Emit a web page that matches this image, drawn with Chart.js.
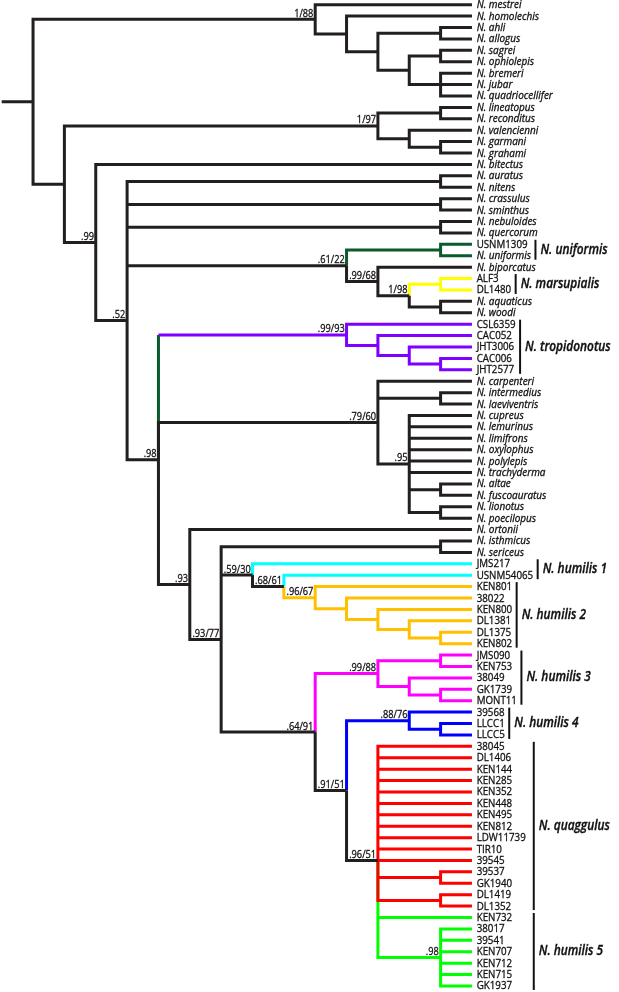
<!DOCTYPE html>
<html>
<head>
<meta charset="utf-8">
<script src="https://cdn.jsdelivr.net/npm/chart.js@4.4.1/dist/chart.umd.min.js"></script>
<style>
  html, body { margin: 0; padding: 0; background: #fff; }
  #wrap { width: 619px; height: 992px; }
</style>
</head>
<body>
<div id="wrap"><canvas id="arvore"></canvas></div>
<script>
// tips, top to bottom
const leaves = [
  'N. mestrei', 'N. homolechis', 'N. ahli', 'N. allogus', 'N. sagrei', 'N. ophiolepis',
  'N. bremeri', 'N. jubar', 'N. quadriocellifer', 'N. lineatopus', 'N. reconditus',
  'N. valencienni', 'N. garmani', 'N. grahami', 'N. bitectus', 'N. auratus', 'N. nitens',
  'N. crassulus', 'N. sminthus', 'N. nebuloides', 'N. quercorum', 'USNM1309', 'N. uniformis',
  'N. biporcatus', 'ALF3', 'DL1480', 'N. aquaticus', 'N. woodi', 'CSL6359', 'CAC052',
  'JHT3006', 'CAC006', 'JHT2577', 'N. carpenteri', 'N. intermedius', 'N. laeviventris',
  'N. cupreus', 'N. lemurinus', 'N. limifrons', 'N. oxylophus', 'N. polylepis',
  'N. trachyderma', 'N. altae', 'N. fuscoauratus', 'N. lionotus', 'N. poecilopus',
  'N. ortonii', 'N. isthmicus', 'N. sericeus', 'JMS217', 'USNM54065', 'KEN801', '38022',
  'KEN800', 'DL1381', 'DL1375', 'KEN802', 'JMS090', 'KEN753', '38049', 'GK1739', 'MONT11',
  '39568', 'LLCC1', 'LLCC5', '38045', 'DL1406', 'KEN144', 'KEN285', 'KEN352', 'KEN448',
  'KEN495', 'KEN812', 'LDW11739', 'TIR10', '39545', '39537', 'GK1940', 'DL1419', 'DL1352',
  'KEN732', '38017', '39541', 'KEN707', 'KEN712', 'KEN715', 'GK1937'
];

// internal nodes: [id, column, children, support]
const nodes = [
  ['root', 1, ['A', 'C'], ''],
  ['A', 10, ['N. mestrei', 'A2'], '1/88'],
  ['A2', 11, ['N. homolechis', 'A3'], ''],
  ['A3', 12, ['A4', 'A5'], ''],
  ['A4', 14, ['N. ahli', 'N. allogus'], ''],
  ['A5', 13, ['A6', 'A7'], ''],
  ['A6', 14, ['N. sagrei', 'N. ophiolepis'], ''],
  ['A7', 14, ['N. bremeri', 'N. jubar', 'N. quadriocellifer'], ''],
  ['C', 2, ['D', 'F'], ''],
  ['D', 12, ['D2', 'E'], '1/97'],
  ['D2', 14, ['N. lineatopus', 'N. reconditus'], ''],
  ['E', 13, ['N. valencienni', 'E2'], ''],
  ['E2', 14, ['N. garmani', 'N. grahami'], ''],
  ['F', 3, ['N. bitectus', 'G'], '.99'],
  ['G', 4, ['G1', 'G2', 'G3', 'H', 'I'], '.52'],
  ['G1', 14, ['N. auratus', 'N. nitens'], ''],
  ['G2', 14, ['N. crassulus', 'N. sminthus'], ''],
  ['G3', 14, ['N. nebuloides', 'N. quercorum'], ''],
  ['H', 11, ['H1', 'J'], '.61/22'],
  ['H1', 14, ['USNM1309', 'N. uniformis'], ''],
  ['J', 12, ['N. biporcatus', 'K'], '.99/68'],
  ['K', 13, ['K1', 'K2'], '1/98'],
  ['K1', 14, ['ALF3', 'DL1480'], ''],
  ['K2', 14, ['N. aquaticus', 'N. woodi'], ''],
  ['I', 5, ['P', 'M', 'N'], '.98'],
  ['P', 11, ['CSL6359', 'P2'], '.99/93'],
  ['P2', 12, ['CAC052', 'P3'], ''],
  ['P3', 13, ['JHT3006', 'P4'], ''],
  ['P4', 14, ['CAC006', 'JHT2577'], ''],
  ['M', 12, ['N. carpenteri', 'M1', 'Q'], '.79/60'],
  ['M1', 14, ['N. intermedius', 'N. laeviventris'], ''],
  ['Q', 13, ['N. cupreus', 'N. lemurinus', 'N. limifrons', 'N. oxylophus', 'N. polylepis',
             'N. trachyderma', 'Q1', 'Q2'], '.95'],
  ['Q1', 14, ['N. altae', 'N. fuscoauratus'], ''],
  ['Q2', 14, ['N. lionotus', 'N. poecilopus'], ''],
  ['N', 6, ['N. ortonii', 'R'], '.93'],
  ['R', 7, ['R1', 'S', 'Y'], '.93/77'],
  ['R1', 14, ['N. isthmicus', 'N. sericeus'], ''],
  ['S', 8, ['JMS217', 'T'], '.59/30'],
  ['T', 9, ['USNM54065', 'U'], '.68/61'],
  ['U', 10, ['KEN801', 'V'], '.96/67'],
  ['V', 11, ['38022', 'W'], ''],
  ['W', 12, ['KEN800', 'X'], ''],
  ['X', 13, ['DL1381', 'X1'], ''],
  ['X1', 14, ['DL1375', 'KEN802'], ''],
  ['Y', 10, ['Z', 'AA'], '.64/91'],
  ['Z', 12, ['Z1', 'Z2'], '.99/88'],
  ['Z1', 14, ['JMS090', 'KEN753'], ''],
  ['Z2', 13, ['38049', 'Z3'], ''],
  ['Z3', 14, ['GK1739', 'MONT11'], ''],
  ['AA', 11, ['BB', 'CC'], '.91/51'],
  ['BB', 13, ['39568', 'BB1'], '.88/76'],
  ['BB1', 14, ['LLCC1', 'LLCC5'], ''],
  ['CC', 12, ['38045', 'DL1406', 'KEN144', 'KEN285', 'KEN352', 'KEN448', 'KEN495', 'KEN812',
              'LDW11739', 'TIR10', '39545', 'CC1', 'CC2', 'KEN732', 'CC3'], '.96/51'],
  ['CC1', 14, ['39537', 'GK1940'], ''],
  ['CC2', 14, ['DL1419', 'DL1352'], ''],
  ['CC3', 14, ['38017', '39541', 'KEN707', 'KEN712', 'KEN715', 'GK1937'], '.98']
];

// node drawn level with a tip instead of centred on its children
const nodeAnchors = { CC: '39545' };

// named clades at the right: [label, first tip, last tip]
const groups = [
  ['N. uniformis', 'USNM1309', 'N. uniformis'],
  ['N. marsupialis', 'ALF3', 'DL1480'],
  ['N. tropidonotus', 'CSL6359', 'JHT2577'],
  ['N. humilis 1', 'JMS217', 'USNM54065'],
  ['N. humilis 2', 'KEN801', 'KEN802'],
  ['N. humilis 3', 'JMS090', 'MONT11'],
  ['N. humilis 4', '39568', 'LLCC5'],
  ['N. quaggulus', '38045', 'DL1352'],
  ['N. humilis 5', 'KEN732', 'GK1937']
];

const tipColumn = 15;
const rootColumn = 0;

// ---- styles ----
const cores = {
  black: '#231f20', red: '#ff0000', yellow: '#ffff00', cyan: '#00ffff', gold: '#ffc000',
  magenta: '#ff00ff', blue: '#0000ff', purple: '#7f00ff', darkgreen: '#0b5a2c', green: '#00ff00'
};
const ordemCores = Object.keys(cores);
const cladeColors = {
  H1: 'darkgreen', K1: 'yellow', P: 'purple', JMS217: 'cyan', USNM54065: 'cyan', U: 'gold',
  Z: 'magenta', BB: 'blue', KEN732: 'green', CC3: 'green'
};
['38045', 'DL1406', 'KEN144', 'KEN285', 'KEN352', 'KEN448', 'KEN495', 'KEN812', 'LDW11739',
 'TIR10', '39545', 'CC1', 'CC2'].forEach(k => cladeColors[k] = 'red');
const stemColors = { P: 'darkgreen' };
const sharedBracket = ['N. quaggulus', 'N. humilis 5'];
// fonts are squeezed horizontally and lightly stroked to imitate the original face
const fonteTip = { font: '10.5px "Open Sans"', sx: 0.93, peso: 0.3 };
const fonteTipItal = { font: 'italic 10.5px "Open Sans"', sx: 0.95, peso: 0.3 };
const fonteSup = { font: '11px "Open Sans"', sx: 0.84, peso: 0.3 };
const fonteGrupo = { font: 'italic 600 13.5px "Open Sans"', sx: 0.88, peso: 0.35 };

// ---- tree geometry ----
const byId = {};
nodes.forEach(n => byId[n[0]] = { id: n[0], col: n[1], kids: n[2], support: n[3] });
const isLeaf = name => !byId[name];
const colOf = name => isLeaf(name) ? tipColumn : byId[name].col;
const rows = {};
function rowOf(name) {
  if (name in rows) return rows[name];
  let v;
  if (isLeaf(name)) {
    v = leaves.indexOf(name);
  } else {
    const k = byId[name].kids;
    k.forEach(rowOf);
    v = nodeAnchors[name] ? leaves.indexOf(nodeAnchors[name])
                          : (rowOf(k[0]) + rowOf(k[k.length - 1])) / 2;
  }
  rows[name] = v;
  return v;
}

const segs = {};
function addSeg(cor, pts) {
  (segs[cor] = segs[cor] || []).push(...pts, { x: NaN, y: NaN });
}
function walk(name, herdada) {
  const cor = cladeColors[name] || herdada;
  if (isLeaf(name)) return;
  const n = byId[name];
  const px = n.col, py = rowOf(name);
  n.kids.forEach(k => {
    const kc = cladeColors[k] || cor;
    const kx = colOf(k), ky = rowOf(k);
    if (stemColors[k]) {
      addSeg(stemColors[k], [{ x: px, y: py }, { x: px, y: ky }]);
      addSeg(kc, [{ x: px, y: ky }, { x: kx, y: ky }]);
    } else {
      addSeg(kc, [{ x: px, y: py }, { x: px, y: ky }, { x: kx, y: ky }]);
    }
    walk(k, cor);
  });
}
addSeg('black', [{ x: rootColumn, y: rowOf('root') }, { x: byId.root.col, y: rowOf('root') }]);
walk('root', 'black');

const datasets = ordemCores.filter(c => segs[c]).map(c => ({
  data: segs[c],
  borderColor: cores[c],
  backgroundColor: cores[c],
  borderWidth: 3,
  pointRadius: 0,
  showLine: true,
  spanGaps: false,
  borderJoinStyle: 'miter',
  borderCapStyle: 'butt',
  clip: false,
  order: ordemCores.indexOf(c)
}));

// layout: column step and row step in pixels
const colPx = 31.35, col0 = 1.7, rowPx = 11.41, row0 = 4.7;
const W = 619, H = 992;

function texto(ctx, f, s, x, y) {
  ctx.save();
  ctx.font = f.font;
  ctx.translate(x, y);
  ctx.scale(f.sx, 1);
  ctx.lineWidth = f.peso;
  ctx.fillText(s, 0, 0);
  ctx.strokeText(s, 0, 0);
  const w = ctx.measureText(s).width * f.sx;
  ctx.restore();
  return w;
}

const rotulos = {
  id: 'rotulos',
  afterDatasetsDraw(chart) {
    const { ctx, scales: { x, y } } = chart;
    ctx.save();
    ctx.fillStyle = '#111';
    ctx.strokeStyle = '#111';

    // tip labels
    ctx.textAlign = 'left';
    ctx.textBaseline = 'middle';
    const tx = x.getPixelForValue(tipColumn) + 4.7;
    const ends = {};
    leaves.forEach((name, i) => {
      const f = name.startsWith('N. ') ? fonteTipItal : fonteTip;
      ends[name] = tx + texto(ctx, f, name, tx, y.getPixelForValue(i) + 0.5);
    });

    // support values
    ctx.textAlign = 'right';
    ctx.textBaseline = 'alphabetic';
    nodes.forEach(n => {
      if (!n[3]) return;
      texto(ctx, fonteSup, n[3], x.getPixelForValue(n[1]) - 1.8, y.getPixelForValue(rowOf(n[0])) - 2.5);
    });

    // clade brackets
    const spanEnd = g => {
      const i0 = leaves.indexOf(g[1]), i1 = leaves.indexOf(g[2]);
      return Math.max(...leaves.slice(i0, i1 + 1).map(n => ends[n]));
    };
    const sharedX = Math.max(...groups.filter(g => sharedBracket.includes(g[0])).map(spanEnd)) + 8;
    ctx.textAlign = 'left';
    ctx.textBaseline = 'middle';
    groups.forEach(g => {
      const bx = sharedBracket.includes(g[0]) ? sharedX : spanEnd(g) + 4.5;
      const y0 = y.getPixelForValue(leaves.indexOf(g[1])) - 4.5;
      const y1 = y.getPixelForValue(leaves.indexOf(g[2])) + 4;
      ctx.lineWidth = 2;
      ctx.beginPath();
      ctx.moveTo(bx, y0);
      ctx.lineTo(bx, y1);
      ctx.stroke();
      texto(ctx, fonteGrupo, g[0], bx + 5, (y0 + y1) / 2);
    });
    ctx.restore();
  }
};

new Chart(document.getElementById('arvore'), {
  type: 'scatter',
  data: { datasets },
  options: {
    responsive: true,
    maintainAspectRatio: false,
    animation: false,
    events: [],
    layout: { padding: 0 },
    plugins: { legend: { display: false }, tooltip: { enabled: false } },
    scales: {
      x: { type: 'linear', display: false, min: -col0 / colPx, max: (W - col0) / colPx },
      y: { type: 'linear', display: false, reverse: true, min: -row0 / rowPx, max: (H - row0) / rowPx }
    }
  },
  plugins: [rotulos]
});
</script>
</body>
</html>
